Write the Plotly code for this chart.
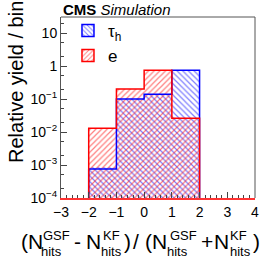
import plotly.graph_objects as go

# ---- data ----
bin_edges = [-2, -1, 0, 1, 2]
tau_values = [7.6e-4, 0.10, 0.14, 0.74]
ele_values = [0.013, 0.20, 0.74, 0.026]
series_names = ["τ<sub>h</sub>", "e"]
y_tick_vals = [1e-4, 1e-3, 1e-2, 1e-1, 1, 10]
y_tick_text = ["10<sup>−4</sup>", "10<sup>−3</sup>", "10<sup>−2</sup>", "10<sup>−1</sup>", "1", "10"]
x_tick_vals = [-3, -2, -1, 0, 1, 2, 3, 4]
x_tick_text = ["−3", "−2", "−1", "0", "1", "2", "3", "4"]

W, H = 266, 258
# plot area in screenshot pixels
PL, PR, PT, PB = 61, 255, 17, 198
ML, MR, MT, MB = PL, W - PR, PT, H - PB
YMIN_LOG = -4
YMAX_LOG = 1.485
FONT = "Liberation Sans, Arial, Helvetica, sans-serif"

centers = [(a + b) / 2 for a, b in zip(bin_edges[:-1], bin_edges[1:])]
widths = [b - a for a, b in zip(bin_edges[:-1], bin_edges[1:])]
floor = 10 ** YMIN_LOG


def step_xy(values):
    xs = [bin_edges[0]] + bin_edges + [bin_edges[-1]]
    ys = [floor] + list(values) + [values[-1], floor]
    return xs, ys


def px2paper_x(px):
    return (px - PL) / (PR - PL)


def px2paper_y(py):
    return (PB - py) / (PB - PT)


fig = go.Figure()
styles = [
    (tau_values, "#0000ff", "\\", series_names[0]),
    (ele_values, "#ff0000", "/", series_names[1]),
]
pat = dict(bgcolor="rgba(255,255,255,0)", size=4, solidity=0.3, fillmode="overlay")
for vals, col, shape, name in styles:
    fig.add_trace(go.Bar(
        x=centers, y=vals, width=widths, name=name, base=floor, showlegend=False,
        marker=dict(color="rgba(255,255,255,0)", line=dict(width=0),
                    pattern=dict(shape=shape, fgcolor=col, **pat)),
    ))
for vals, col, shape, name in styles:
    xs, ys = step_xy(vals)
    fig.add_trace(go.Scatter(x=xs, y=ys, mode="lines", line=dict(color=col, width=1.5, shape="hv"),
                             showlegend=False, hoverinfo="skip"))
# legend entries
for vals, col, shape, name in styles:
    fig.add_trace(go.Bar(
        x=[None], y=[None], name=name, showlegend=True,
        marker=dict(color="rgba(255,255,255,0)", line=dict(color=col, width=1.5),
                    pattern=dict(shape=shape, fgcolor=col, **pat)),
    ))

fig.update_layout(
    width=W, height=H,
    margin=dict(l=ML, r=MR, t=MT, b=MB, autoexpand=False),
    paper_bgcolor="white", plot_bgcolor="white",
    barmode="overlay",
    font=dict(family=FONT, color="black", size=14),
    legend=dict(x=0.036, y=1.023, xanchor="left", yanchor="top", bgcolor="rgba(0,0,0,0)",
                font=dict(size=17), tracegroupgap=2, itemwidth=30),
    showlegend=True,
)
fig.update_xaxes(
    range=[-3, 4], tickvals=x_tick_vals, ticktext=x_tick_text, automargin=False,
    ticks="inside", ticklen=6, tickcolor="#444", showgrid=False, zeroline=False,
    showline=True, linecolor="#ff3333", linewidth=1.5,
    minor=dict(ticks="inside", ticklen=3, dtick=0.2, tickcolor="#444", showgrid=False),
    tickfont=dict(size=14),
)
fig.update_yaxes(
    type="log", range=[YMIN_LOG, YMAX_LOG], tickvals=y_tick_vals, ticktext=y_tick_text,
    automargin=False,
    ticks="inside", ticklen=6, tickcolor="#444", showgrid=False, zeroline=False,
    showline=True, linecolor="#555", linewidth=1, mirror=False,
    minor=dict(ticks="inside", ticklen=3, tickcolor="#444", showgrid=False),
    tickfont=dict(size=14),
)
fig.add_shape(type="line", xref="paper", yref="paper", x0=0, x1=1, y0=1, y1=1,
              line=dict(color="#555", width=1))
fig.add_shape(type="line", xref="paper", yref="paper", x0=1, x1=1, y0=0, y1=1,
              line=dict(color="#555", width=1))

# CMS label
fig.add_annotation(xref="paper", yref="paper", x=px2paper_x(62), y=px2paper_y(9.5),
                   xanchor="left", yanchor="middle", borderpad=0,
                   text="<b>CMS</b> <i>Simulation</i>", showarrow=False,
                   font=dict(size=15, family=FONT))

# y title
fig.add_annotation(xref="paper", yref="paper", x=px2paper_x(16), y=px2paper_y(82),
                   xanchor="center", yanchor="middle", textangle=-90, borderpad=0,
                   text="Relative yield / bin", showarrow=False,
                   font=dict(size=20, family=FONT))

# x title built from pieces so the super/subscripts stack like the original
MAIN_Y, SUP_Y, SUB_Y = 241.5, 235, 251.5
title_pieces = [
    ("(N", 20, "main"), ("GSF", 42, "sup"), ("hits", 40, "sub"),
    ("-", 73, "main"), ("N", 85, "main"), ("KF", 102, "sup"), ("hits", 100, "sub"),
    (")", 123, "main"),
    ("/", 132, "main"), ("(N", 144, "main"), ("GSF", 169, "sup"), ("hits", 166, "sub"),
    ("+", 200, "main"), ("N", 213, "main"), ("KF", 229, "sup"), ("hits", 229, "sub"),
    (")", 252, "main"),
]
for txt, px, kind in title_pieces:
    py = {"main": MAIN_Y, "sup": SUP_Y, "sub": SUB_Y}[kind]
    size = 21 if kind == "main" else 13
    fig.add_annotation(xref="paper", yref="paper", x=px2paper_x(px), y=px2paper_y(py),
                       xanchor="left", yanchor="middle", borderpad=0, showarrow=False,
                       text=txt, font=dict(size=size, family=FONT))

fig.write_html("out.html", config={"displayModeBar": False},
               post_script="document.body.style.margin='0';")
